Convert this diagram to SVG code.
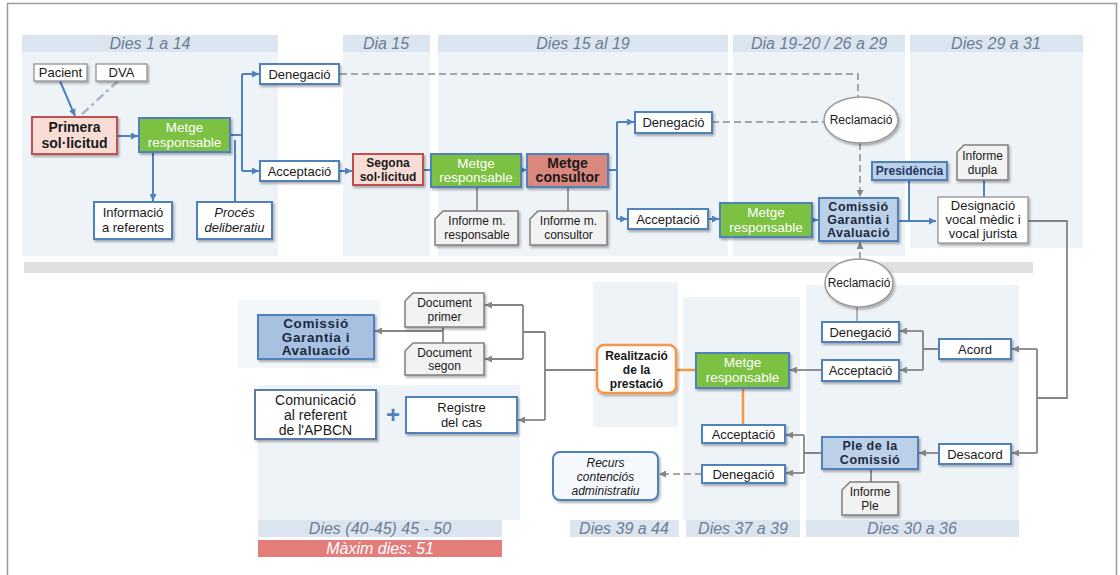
<svg xmlns="http://www.w3.org/2000/svg" width="1120" height="575" viewBox="0 0 1120 575">
  <defs>
    <style>
      text { font-family: "Liberation Sans", Arial, sans-serif; fill: #1a1a1a; text-anchor: middle; }
      .hdr { fill: #dbe5f0; }
      .hdrt { font-size: 16px; font-style: italic; fill: #6d7d92; }
      .col { fill: #eef3f8; }
      .box { fill: #ffffff; stroke: #4f81bd; stroke-width: 2; filter: url(#sh); }
      .plain { fill: #ffffff; stroke: #8a8a8a; stroke-width: 1.2; filter: url(#sh); }
      .green { fill: #7cc142; stroke: #4f81bd; stroke-width: 2; filter: url(#sh); }
      .pink { fill: #f7ddd6; stroke: #c0504d; stroke-width: 2; filter: url(#sh); }
      .salmon { fill: #da877e; stroke: #4f81bd; stroke-width: 2; filter: url(#sh); }
      .lblue { fill: #bcd0e8; stroke: #4f81bd; stroke-width: 2; filter: url(#sh); }
      .dblue { fill: #a9c1e1; stroke: #4f81bd; stroke-width: 2; filter: url(#sh); }
      .doc { fill: #f2f2f2; stroke: #7f7f7f; stroke-width: 1.5; filter: url(#sh); }
      .orange { fill: #ffffff; stroke: #f79646; stroke-width: 2.5; filter: url(#sh); }
      .ell { fill: #ffffff; stroke: #9a9a9a; stroke-width: 1.5; filter: url(#sh); }
      .t13 { font-size: 13px; }
      .t12 { font-size: 12px; }
      .w { fill: #ffffff; font-size: 13.5px; }
      .b { font-weight: bold; }
      .it { font-style: italic; }
      .cb { font-weight: bold; font-size: 12.5px; letter-spacing: 0.5px; fill: #1b2a3e; }
      .cl-blue { fill: none; stroke: #4f81bd; stroke-width: 2; }
      .cl-gray { fill: none; stroke: #858585; stroke-width: 1.8; }
      .cl-dash { fill: none; stroke: #8c8c8c; stroke-width: 1.5; stroke-dasharray: 7 4; }
      .cl-dashdot { fill: none; stroke: #a8b6c8; stroke-width: 2.5; stroke-dasharray: 9 4 3 4; }
      .cl-orange { fill: none; stroke: #f79646; stroke-width: 2.5; }
    </style>
    <filter id="sh" x="-15%" y="-15%" width="135%" height="145%">
      <feDropShadow dx="1.5" dy="2" stdDeviation="1.2" flood-color="#000000" flood-opacity="0.3"/>
    </filter>
    <marker id="ab" viewBox="0 0 8 8" refX="8" refY="4" markerWidth="7" markerHeight="7" orient="auto" markerUnits="userSpaceOnUse">
      <path d="M0,0 L8,4 L0,8 z" fill="#4f81bd"/>
    </marker>
    <marker id="ag" viewBox="0 0 8 8" refX="8" refY="4" markerWidth="7" markerHeight="7" orient="auto" markerUnits="userSpaceOnUse">
      <path d="M0,0 L8,4 L0,8 z" fill="#858585"/>
    </marker>
  </defs>

  <!-- page -->
  <rect x="0" y="0" width="1120" height="575" fill="#ffffff"/>
  <path d="M7.5,575 V3.5 H1116.5 V575" fill="none" stroke="#9a9a9a" stroke-width="1.5"/>

  <!-- timeline columns, upper row -->
  <g id="columns-top">
    <rect class="col" x="22" y="52" width="256" height="204"/>
    <rect class="col" x="343" y="52" width="87" height="204"/>
    <rect class="col" x="438" y="52" width="290" height="204"/>
    <rect class="col" x="733" y="52" width="172" height="204"/>
    <rect class="col" x="910" y="52" width="173" height="196"/>
    <rect class="hdr" x="22" y="35" width="256" height="17"/>
    <text class="hdrt" x="150" y="49">Dies 1 a 14</text>
    <rect class="hdr" x="343" y="35" width="87" height="17"/>
    <text class="hdrt" x="386" y="49">Dia 15</text>
    <rect class="hdr" x="438" y="35" width="290" height="17"/>
    <text class="hdrt" x="583" y="49">Dies 15 al 19</text>
    <rect class="hdr" x="733" y="35" width="172" height="17"/>
    <text class="hdrt" x="819" y="49">Dia 19-20 / 26 a 29</text>
    <rect class="hdr" x="910" y="35" width="173" height="17"/>
    <text class="hdrt" x="996" y="49">Dies 29 a 31</text>
  </g>

  <!-- timeline columns, lower row -->
  <g id="columns-bottom">
    <rect class="col" x="238" y="300" width="142" height="68" opacity="0.7"/>
    <rect class="col" x="258" y="385" width="262" height="135"/>
    <rect class="col" x="593" y="282" width="85" height="145"/>
    <rect class="col" x="683" y="297" width="117" height="223"/>
    <rect class="col" x="806" y="285" width="213" height="235"/>
    <rect x="24" y="262" width="1009" height="11" fill="#e0e0e0"/>
    <rect class="hdr" x="258" y="520" width="244" height="17"/>
    <text class="hdrt" x="380" y="534">Dies (40-45) 45 - 50</text>
    <rect x="258" y="540" width="244" height="17" fill="#e47c7a"/>
    <text class="hdrt" x="380" y="554" style="fill:#ffffff">Màxim dies: 51</text>
    <rect class="hdr" x="570" y="520" width="109" height="17"/>
    <text class="hdrt" x="624" y="534">Dies 39 a 44</text>
    <rect class="hdr" x="686" y="520" width="114" height="17"/>
    <text class="hdrt" x="743" y="534">Dies 37 a 39</text>
    <rect class="hdr" x="806" y="520" width="213" height="17"/>
    <text class="hdrt" x="912" y="534">Dies 30 a 36</text>
  </g>

  <!-- connectors -->
  <g id="connectors">
    <!-- upper flow -->
    <path class="cl-blue" d="M60,81 L75,116" marker-end="url(#ab)"/>
    <path class="cl-dashdot" d="M118,81 L80,116"/>
    <path class="cl-blue" d="M117,136 H138" marker-end="url(#ab)"/>
    <path class="cl-blue" d="M230,135 H242 M242,74 V171"/>
    <path class="cl-blue" d="M242,74 H259" marker-end="url(#ab)"/>
    <path class="cl-blue" d="M242,171 H259" marker-end="url(#ab)"/>
    <path class="cl-blue" d="M153,152 V201" marker-end="url(#ab)"/>
    <path class="cl-blue" d="M235,140 V202"/>
    <path class="cl-dash" d="M340,74 H858 V97"/>
    <path class="cl-blue" d="M340,171 H352" marker-end="url(#ab)"/>
    <path class="cl-blue" d="M423,170 H431"/>
    <path class="cl-blue" d="M521,170 H527" marker-end="url(#ab)"/>
    <path class="cl-gray" d="M477,187 V211 M568,187 V211" style="stroke:#9a9a9a;stroke-width:2"/>
    <path class="cl-blue" d="M608,170 H617 M617,122 V219"/>
    <path class="cl-blue" d="M617,122 H634" marker-end="url(#ab)"/>
    <path class="cl-blue" d="M617,219 H627" marker-end="url(#ab)"/>
    <path class="cl-dash" d="M712,122 H824"/>
    <path class="cl-blue" d="M708,219 H719" marker-end="url(#ab)"/>
    <path class="cl-blue" d="M812,220 H818" marker-end="url(#ab)"/>
    <path class="cl-dash" d="M860,143 V197" marker-end="url(#ag)"/>
    <path class="cl-dash" d="M860,259 V242" marker-end="url(#ag)"/>
    <path class="cl-blue" d="M898,221 H936" marker-end="url(#ab)"/>
    <path class="cl-blue" d="M909,180 V221"/>
    <path class="cl-blue" d="M984,180 V197"/>
    <!-- lower flow -->
    <path class="cl-gray" d="M1028,221 H1067 V398 H1037 M1037,349 V453"/>
    <path class="cl-gray" d="M1037,349 H1012" marker-end="url(#ag)"/>
    <path class="cl-gray" d="M1037,453 H1012" marker-end="url(#ag)"/>
    <path class="cl-gray" d="M857,307 V322" style="stroke-width:1.2"/>
    <path class="cl-gray" d="M939,349 H923 M923,331 V370"/>
    <path class="cl-gray" d="M923,331 H900" marker-end="url(#ag)"/>
    <path class="cl-gray" d="M923,370 H900" marker-end="url(#ag)"/>
    <path class="cl-gray" d="M822,370 H790" marker-end="url(#ag)"/>
    <path class="cl-gray" d="M939,453 H919" marker-end="url(#ag)"/>
    <path class="cl-gray" d="M822,453 H804 M804,435 V473"/>
    <path class="cl-gray" d="M804,435 H786" marker-end="url(#ag)"/>
    <path class="cl-gray" d="M804,473 H786" marker-end="url(#ag)"/>
    <path class="cl-gray" d="M871,469 V482"/>
    <path class="cl-orange" d="M743,388 V425"/>
    <path class="cl-orange" d="M696,370 H676"/>
    <path class="cl-dash" d="M702,474 H659" marker-end="url(#ag)"/>
    <path class="cl-gray" d="M597,370 H545 M545,332 V420 M545,332 H523 M523,305 V359"/>
    <path class="cl-gray" d="M523,305 H485" marker-end="url(#ag)"/>
    <path class="cl-gray" d="M523,359 H485" marker-end="url(#ag)"/>
    <path class="cl-gray" d="M545,420 H518" marker-end="url(#ag)"/>
    <path class="cl-gray" d="M443,327 V343 M443,331 H375" marker-end="url(#ag)"/>
  </g>

  <!-- nodes, upper row -->
  <g id="pacient"><rect class="plain" x="34" y="64" width="53" height="17"/><text class="t13" x="60.5" y="77">Pacient</text></g>
  <g id="dva"><rect class="plain" x="96" y="64" width="51" height="17"/><text class="t13" x="121.5" y="77">DVA</text></g>
  <g id="primera-sollicitud"><rect class="pink" x="32" y="117" width="85" height="37"/>
    <text class="b" x="74.5" y="132" style="font-size:14px">Primera</text><text class="b" x="74.5" y="148" style="font-size:14px">sol·licitud</text></g>
  <g id="metge-responsable-1"><rect class="green" x="139" y="118" width="91" height="34"/>
    <text class="w" x="184.5" y="132">Metge</text><text class="w" x="184.5" y="147">responsable</text></g>
  <g id="informacio-referents"><rect class="box" x="94" y="202" width="78" height="37"/>
    <text class="t13" x="133" y="217">Informació</text><text class="t13" x="133" y="232">a referents</text></g>
  <g id="proces-deliberatiu"><rect class="box" x="197" y="202" width="75" height="37"/>
    <text class="t13 it" x="234.5" y="217">Procés</text><text class="t13 it" x="234.5" y="232">deliberatiu</text></g>
  <g id="denegacio-1"><rect class="box" x="260" y="64" width="79" height="20"/><text class="t13" x="299.5" y="79">Denegació</text></g>
  <g id="acceptacio-1"><rect class="box" x="260" y="161" width="79" height="20"/><text class="t13" x="299.5" y="176">Acceptació</text></g>
  <g id="segona-sollicitud"><rect class="pink" x="353" y="154" width="70" height="31"/>
    <text class="b t12" x="388" y="167">Segona</text><text class="b t12" x="388" y="181">sol·licitud</text></g>
  <g id="metge-responsable-2"><rect class="green" x="431" y="154" width="90" height="33"/>
    <text class="w" x="476" y="168">Metge</text><text class="w" x="476" y="182">responsable</text></g>
  <g id="metge-consultor"><rect class="salmon" x="527" y="154" width="81" height="33"/>
    <text class="b" x="567.5" y="168" style="font-size:14px">Metge</text><text class="b" x="567.5" y="182" style="font-size:14px">consultor</text></g>
  <g id="informe-m-responsable"><path class="doc" d="M443,211 H518 V245 H435 V219 Z"/>
    <text class="t12" x="477" y="225">Informe m.</text><text class="t12" x="477" y="239">responsable</text></g>
  <g id="informe-m-consultor"><path class="doc" d="M538,211 H607 V245 H530 V219 Z"/>
    <text class="t12" x="568.5" y="225">Informe m.</text><text class="t12" x="568.5" y="239">consultor</text></g>
  <g id="denegacio-2"><rect class="box" x="635" y="112" width="77" height="21"/><text class="t13" x="673.5" y="127">Denegació</text></g>
  <g id="acceptacio-2"><rect class="box" x="628" y="209" width="80" height="20"/><text class="t13" x="668" y="224">Acceptació</text></g>
  <g id="metge-responsable-3"><rect class="green" x="720" y="203" width="92" height="34"/>
    <text class="w" x="766" y="217">Metge</text><text class="w" x="766" y="232">responsable</text></g>
  <g id="comissio-garantia-1"><rect class="lblue" x="819" y="198" width="79" height="43"/>
    <text class="cb" x="858.5" y="211">Comissió</text><text class="cb" x="858.5" y="224">Garantia i</text><text class="cb" x="858.5" y="237">Avaluació</text></g>
  <g id="reclamacio-1"><ellipse class="ell" cx="861" cy="120" rx="37" ry="23"/><text class="t12" x="861" y="124">Reclamació</text></g>
  <g id="presidencia"><rect class="lblue" x="872" y="162" width="75" height="18"/>
    <text class="b t12" x="909.5" y="175" style="fill:#1f3864">Presidència</text></g>
  <g id="informe-dupla"><path class="doc" d="M964,145 H1008 V180 H957 V152 Z"/>
    <text class="t12" x="982.5" y="160">Informe</text><text class="t12" x="982.5" y="174">dupla</text></g>
  <g id="designacio-vocals"><rect class="plain" x="938" y="197" width="90" height="46"/>
    <text class="t13" x="983" y="210">Designació</text><text class="t13" x="983" y="224">vocal mèdic i</text><text class="t13" x="983" y="238">vocal jurista</text></g>

  <!-- nodes, lower row -->
  <g id="reclamacio-2"><ellipse class="ell" cx="859" cy="283" rx="34" ry="24"/><text class="t12" x="859" y="287">Reclamació</text></g>
  <g id="denegacio-3"><rect class="box" x="822" y="322" width="77" height="20"/><text class="t13" x="860.5" y="337">Denegació</text></g>
  <g id="acceptacio-3"><rect class="box" x="822" y="360" width="77" height="21"/><text class="t13" x="860.5" y="375">Acceptació</text></g>
  <g id="acord"><rect class="box" x="939" y="339" width="72" height="20"/><text class="t13" x="975" y="354">Acord</text></g>
  <g id="desacord"><rect class="box" x="939" y="444" width="72" height="20"/><text class="t13" x="975" y="459">Desacord</text></g>
  <g id="ple-comissio"><rect class="lblue" x="822" y="437" width="96" height="32"/>
    <text class="cb" x="870" y="450">Ple de la</text><text class="cb" x="870" y="464">Comissió</text></g>
  <g id="informe-ple"><path class="doc" d="M850,482 H898 V515 H842 V490 Z"/>
    <text class="t12" x="870" y="496">Informe</text><text class="t12" x="870" y="510">Ple</text></g>
  <g id="metge-responsable-4"><rect class="green" x="696" y="353" width="93" height="35"/>
    <text class="w" x="742.5" y="367">Metge</text><text class="w" x="742.5" y="382">responsable</text></g>
  <g id="realitzacio-prestacio"><rect class="orange" x="597" y="345" width="79" height="48" rx="7"/>
    <text class="b t12" x="636.5" y="360">Realització</text><text class="b t12" x="636.5" y="374">de la</text><text class="b t12" x="636.5" y="388">prestació</text></g>
  <g id="acceptacio-4"><rect class="box" x="702" y="425" width="83" height="18"/><text class="t13" x="743.5" y="439">Acceptació</text></g>
  <g id="denegacio-4"><rect class="box" x="702" y="465" width="83" height="18"/><text class="t13" x="743.5" y="479">Denegació</text></g>
  <g id="recurs-contencios"><rect x="553" y="452" width="105" height="48" rx="7" fill="#f5f8fc" stroke="#4f81bd" stroke-width="2" filter="url(#sh)"/>
    <text class="t12 it" x="605.5" y="467">Recurs</text><text class="t12 it" x="605.5" y="481">contenciós</text><text class="t12 it" x="605.5" y="495">administratiu</text></g>
  <g id="document-primer"><path class="doc" d="M413,293 H484 V327 H405 V301 Z"/>
    <text class="t12" x="444.5" y="307">Document</text><text class="t12" x="444.5" y="321">primer</text></g>
  <g id="document-segon"><path class="doc" d="M413,343 H484 V375 H405 V351 Z"/>
    <text class="t12" x="444.5" y="357">Document</text><text class="t12" x="444.5" y="370">segon</text></g>
  <g id="comissio-garantia-2"><rect class="dblue" x="258" y="315" width="116" height="44"/>
    <text class="cb" x="316" y="328" style="font-size:13.5px;letter-spacing:0.6px">Comissió</text>
    <text class="cb" x="316" y="341.5" style="font-size:13.5px;letter-spacing:0.6px">Garantia i</text>
    <text class="cb" x="316" y="355" style="font-size:13.5px;letter-spacing:0.6px">Avaluació</text></g>
  <g id="comunicacio-referent"><rect class="box" x="255" y="390" width="121" height="49" style="stroke:#5a7ca8"/>
    <text x="315.5" y="405" style="font-size:14px">Comunicació</text><text x="315.5" y="420" style="font-size:14px">al referent</text><text x="315.5" y="435" style="font-size:14px">de l'APBCN</text></g>
  <g id="mes"><text x="393" y="423" style="font-size:24px;font-weight:bold;fill:#4f81bd">+</text></g>
  <g id="registre-cas"><rect class="box" x="406" y="397" width="111" height="36"/>
    <text class="t13" x="461.5" y="412">Registre</text><text class="t13" x="461.5" y="427">del cas</text></g>
</svg>
